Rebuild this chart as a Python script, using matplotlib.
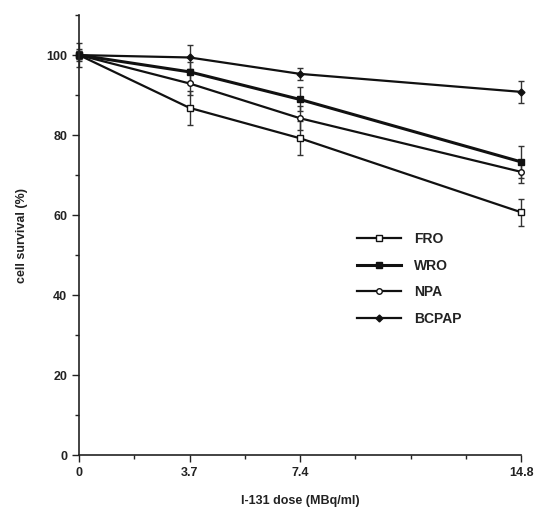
import matplotlib
matplotlib.use("Agg")
import matplotlib.pyplot as plt
from matplotlib.lines import Line2D
from matplotlib.ticker import MultipleLocator, FixedLocator

# I-131 dose (MBq/ml) and cell survival (%) per cell line
dose = [0, 3.7, 7.4, 14.8]
fro = [100, 86.8, 79.2, 60.7]
fro_err = [1.5, 4.3, 4.2, 3.4]
wro = [100, 95.8, 88.9, 73.3]
wro_err = [1.0, 2.5, 3.0, 4.0]
npa = [100, 92.9, 84.2, 70.8]
npa_err = [1.0, 3.0, 3.0, 2.7]
bcpap = [100, 99.4, 95.3, 90.8]
bcpap_err = [3.0, 3.0, 1.5, 2.7]

xtick_labels = ["0", "3.7", "7.4", "14.8"]
ytick_values = [0, 20, 40, 60, 80, 100]

plt.rcParams["font.family"] = ["Liberation Sans", "DejaVu Sans"]

fig = plt.figure(figsize=(5.42, 5.20), dpi=100)
ax = fig.add_axes([0.1458, 0.125, 0.8155, 0.846])

ink = "#111111"
common = dict(color=ink, ecolor="#333333", elinewidth=1.0, capsize=2.5, capthick=1.0)

series = [
    ("FRO", fro, fro_err, dict(marker="s", markersize=4, markerfacecolor="white",
                               markeredgecolor=ink, markeredgewidth=1.0, linewidth=1.6)),
    ("WRO", wro, wro_err, dict(marker="s", markersize=5, markerfacecolor=ink,
                               markeredgecolor=ink, linewidth=2.2)),
    ("NPA", npa, npa_err, dict(marker="o", markersize=4, markerfacecolor="white",
                               markeredgecolor=ink, markeredgewidth=1.0, linewidth=1.6)),
    ("BCPAP", bcpap, bcpap_err, dict(marker="D", markersize=3.5, markerfacecolor=ink,
                                     markeredgecolor=ink, linewidth=1.6)),
]

handles = []
for name, vals, errs, style in series:
    cont = ax.errorbar(dose, vals, yerr=errs, **common, **style)
    for art in [cont[0], *cont[1], *cont[2]]:
        art.set_clip_on(False)
    handles.append(Line2D([], [], color=ink, label=name, **style))

ax.set_xlim(0, 14.8)
ax.set_ylim(0, 110)

for s in ("top", "right"):
    ax.spines[s].set_visible(False)
for s in ("left", "bottom"):
    ax.spines[s].set_linewidth(1.2)
    ax.spines[s].set_color("#222222")

ax.xaxis.set_major_locator(FixedLocator(dose))
ax.set_xticklabels(xtick_labels)
ax.xaxis.set_minor_locator(MultipleLocator(1.85))
ax.set_yticks(ytick_values)
ax.yaxis.set_minor_locator(MultipleLocator(10))

ax.tick_params(axis="both", which="major", direction="out", length=5, width=1.0,
               labelsize=9, colors="#222222")
ax.tick_params(axis="both", which="minor", direction="out", length=3, width=1.0,
               colors="#222222")
for lbl in ax.get_xticklabels() + ax.get_yticklabels():
    lbl.set_fontweight("bold")

ax.set_xlabel("I-131 dose (MBq/ml)", fontsize=9, fontweight="bold", color="#222222",
              labelpad=12)
ax.set_ylabel("cell survival (%)", fontsize=9, fontweight="bold", color="#222222",
              labelpad=13)

leg = ax.legend(handles=handles, loc="upper left", bbox_to_anchor=(0.60, 0.535),
                frameon=False, handlelength=3.2, labelspacing=0.9,
                handletextpad=0.9, prop={"weight": "bold", "size": 10})
for t in leg.get_texts():
    t.set_color("#222222")

fig.savefig("out.png", dpi=100, facecolor="white")
